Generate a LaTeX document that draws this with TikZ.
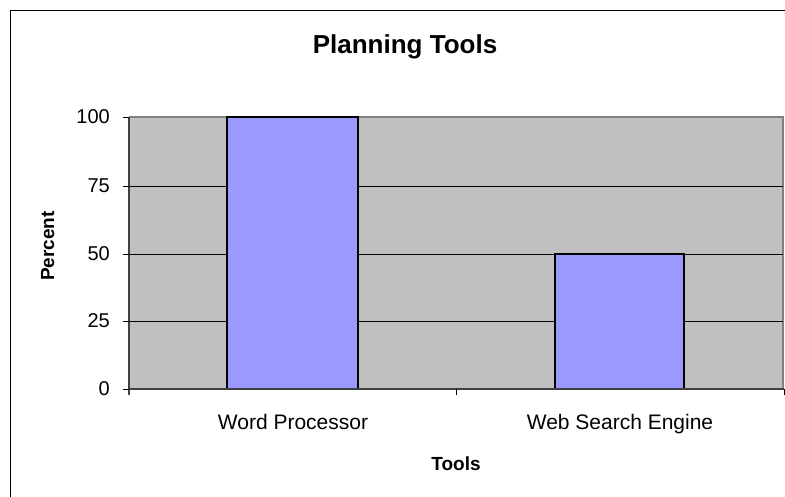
\documentclass[tikz,border=0pt]{standalone}
\usepackage{fontspec}
\setmainfont{Liberation Sans}
\begin{document}
\begin{tikzpicture}[x=1pt,y=-1pt,
  frame/.style={draw=black,line width=1pt},
  plotbg/.style={fill=plotgray,draw=none},
  grid/.style={draw=black,line width=0.8pt},
  bar/.style={fill=barblue,draw=black,line width=1.2pt},
  axisline/.style={draw=axisdark,line width=1.2pt},
  tick/.style={draw=black,line width=0.8pt},
  ticklabel/.style={font=\fontsize{20}{24}\selectfont,inner sep=0pt},
  axtitle/.style={font=\fontsize{19}{23}\selectfont\bfseries,inner sep=0pt},
  ttl/.style={font=\fontsize{26}{30}\selectfont\bfseries,inner sep=0pt}]
\definecolor{plotgray}{HTML}{C0C0C0}
\definecolor{barblue}{HTML}{9999FF}
\definecolor{axisdark}{HTML}{404040}
\definecolor{bordergray}{HTML}{808080}
\useasboundingbox (0,0) rectangle (785,496);
\fill[white] (0,0) rectangle (785,496);
% outer chart frame
\draw[frame] (10,500) -- (10,10) -- (790,10);
% plot area
\fill[plotbg] (129,117) rectangle (783,389);
\draw[draw=bordergray,line width=1.2pt] (129,117) -- (783,117) -- (783,389);
% gridlines
\foreach \yy in {186,254,321} \draw[grid] (129,\yy) -- (783,\yy);
% bars
\draw[bar] (227,389) rectangle (358,117);
\draw[bar] (555,389) rectangle (684,254);
% axes
\draw[axisline] (129,117) -- (129,395);
\draw[axisline] (129,389) -- (784,389);
\foreach \yy in {117,186,254,321,389} \draw[tick] (123,\yy) -- (129,\yy);
\foreach \xx in {456,784} \draw[tick] (\xx,389) -- (\xx,395);
% tick labels
\node[ticklabel,anchor=east] (l100) at (110,117) {100};
\node[ticklabel,anchor=east] (l75) at (110,186) {75};
\node[ticklabel,anchor=east] (l50) at (110,254) {50};
\node[ticklabel,anchor=east] (l25) at (110,321) {25};
\node[ticklabel,anchor=east] (l0) at (110,389) {0};
\node[ticklabel,font=\fontsize{21}{24}\selectfont,anchor=base] (wp) at (293,429) {Word Processor};
\node[ticklabel,font=\fontsize{21}{24}\selectfont,anchor=base] (ws) at (620,429) {Web Search Engine};
% titles
\node[ttl,anchor=base] (title) at (405,53) {Planning Tools};
\node[axtitle,anchor=base] (xt) at (456,470) {Tools};
\node[axtitle,rotate=90,anchor=base] (yt) at (54,246) {Percent};
\end{tikzpicture}
\end{document}
